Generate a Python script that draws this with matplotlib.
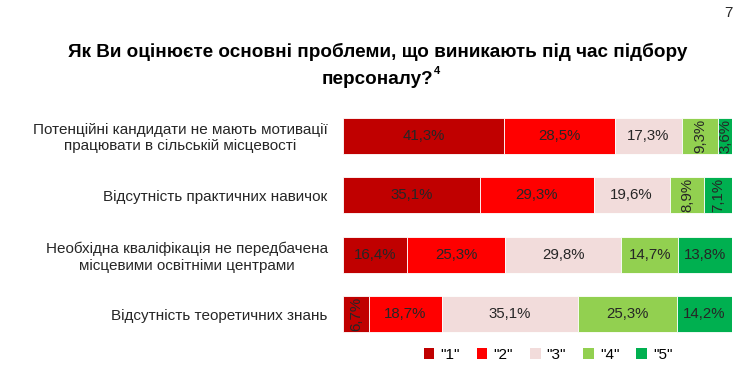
import matplotlib
matplotlib.use("Agg")
import matplotlib.pyplot as plt
from matplotlib.patches import Patch
import numpy as np

categories = [
    "Потенційні кандидати не мають мотивації\nпрацювати в сільській місцевості",
    "Відсутність практичних навичок",
    "Необхідна кваліфікація не передбачена\nмісцевими освітніми центрами",
    "Відсутність теоретичних знань",
]
series_names = ['"1"', '"2"', '"3"', '"4"', '"5"']
s1 = [41.3, 35.1, 16.4, 6.7]
s2 = [28.5, 29.3, 25.3, 18.7]
s3 = [17.3, 19.6, 29.8, 35.1]
s4 = [9.3, 8.9, 14.7, 25.3]
s5 = [3.6, 7.1, 13.8, 14.2]
series = [s1, s2, s3, s4, s5]
colors = ["#C00000", "#FF0000", "#F2DCDB", "#92D050", "#00B050"]

plt.rcParams['font.family'] = ['Liberation Sans', 'DejaVu Sans']

fig = plt.figure(figsize=(7.55, 3.87), dpi=100)
ax = fig.add_axes([343/755, 1-344/387, (732-343)/755, (344-106)/387])

y = np.arange(len(categories))
left = np.zeros(len(categories))
for vals, col, name in zip(series, colors, series_names):
    vals = np.array(vals)
    ax.barh(y, vals, left=left, height=0.61, color=col, edgecolor="white",
            linewidth=0.6, label=name)
    for yi, (l, v) in enumerate(zip(left, vals)):
        txt = f"{v:.1f}%".replace(".", ",")
        rot = 90 if v < 10 else 0
        ax.text(l + v/2, yi, txt, ha="center", va="center", rotation=rot,
                fontsize=10.8, color="#262626")
    left += vals

ax.set_xlim(0, 100)
ax.set_ylim(3.5, -0.5)
ax.set_yticks(y)
ax.set_yticklabels(categories, fontsize=11, color="#262626", ha="right", multialignment="center")
ax.tick_params(axis="y", length=0, pad=11)
ax.set_xticks([])
for s in ax.spines.values():
    s.set_visible(False)

fig.text(0.5, 1-52/387, "Як Ви оцінюєте основні проблеми, що виникають під час підбору",
         ha="center", va="center", fontsize=13.6, fontweight="bold", color="#000000")
t2 = fig.text(0.5, 1-79/387, "персоналу?", ha="center", va="center", fontsize=13.6,
              fontweight="bold", color="#000000")
fig.canvas.draw()
bb = t2.get_window_extent()
fig.text((bb.x1 + 1) / fig.bbox.width, 1-71/387, "4", ha="left", va="center", fontsize=8,
         fontweight="bold", color="#000000")
fig.text(728/755, 1-13/387, "7", ha="center", va="center", fontsize=11, color="#262626")

handles = [Patch(facecolor=c, edgecolor="none") for c in colors]
fig.legend(handles, series_names, loc="center", bbox_to_anchor=(548/755, 1-355/387),
           ncol=5, frameon=False, fontsize=11, handlelength=0.7, handleheight=0.7,
           columnspacing=1.1, handletextpad=0.4)

fig.savefig("out.png", dpi=100)
